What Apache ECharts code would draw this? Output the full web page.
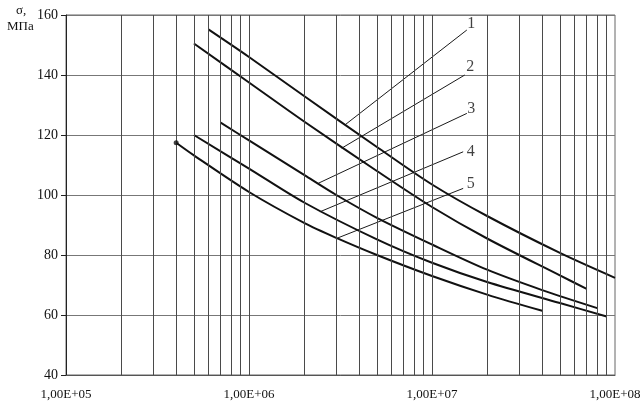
<!DOCTYPE html>
<html>
<head>
<meta charset="utf-8">
<script src="https://cdn.jsdelivr.net/npm/echarts@6/dist/echarts.min.js"></script>
<style>
  html, body { margin: 0; padding: 0; background: #fff; }
  #chart { width: 641px; height: 408px; }
</style>
</head>
<body>
<div id="chart"></div>
<script>
// Fatigue curves: stress amplitude (MPa) against number of cycles (log scale)
const cycles1 = [6e5, 1e6, 2e6, 5e6, 1e7, 2e7, 5e7, 1e8];
const stress1 = [155.2, 146, 133, 116, 103.5, 93, 80.7, 72.4];

const cycles2 = [5e5, 1e6, 2e6, 5e6, 1e7, 2e7, 5e7, 7e7];
const stress2 = [150.5, 137.5, 124.5, 108, 96, 85.5, 73.2, 68.7];

const cycles3 = [7e5, 1e6, 2e6, 3e6, 5e6, 1e7, 2e7, 4e7, 8e7];
const stress3 = [124.1, 118.2, 106.7, 100, 92.4, 83.5, 75.1, 68.3, 62.3];

const cycles4 = [5e5, 1e6, 2e6, 5e6, 1e7, 2e7, 5e7, 9e7];
const stress4 = [120, 108.8, 97.5, 85.2, 77.4, 71, 64, 59.5];

const cycles5 = [4e5, 5e5, 1e6, 2e6, 3e6, 5e6, 1e7, 2e7, 4e7];
const stress5 = [117.4, 113.2, 101, 90.7, 85.7, 80, 73, 66.8, 61.4];

// Callout lines: upper end (near the number) and lower end (on the curve)
const calloutNames = ['1', '2', '3', '4', '5'];
const calloutTopCycles = [1.55e7, 1.51e7, 1.55e7, 1.48e7, 1.48e7];
const calloutTopStress = [155, 140, 127.2, 114.4, 102.2];
const calloutEndCycles = [3.35e6, 3.21e6, 2.39e6, 2.44e6, 3.06e6];
const calloutEndStress = [123.4, 115.6, 103.9, 94.4, 85.7];

// Axis ticks and labels
const xTickLabels = ['1,00E+05', '1,00E+06', '1,00E+07', '1,00E+08'];
const yTicks = [40, 60, 80, 100, 120, 140, 160];
const logGridCycles = [
  2e5, 3e5, 4e5, 5e5, 6e5, 7e5, 8e5, 9e5, 1e6,
  2e6, 3e6, 4e6, 5e6, 6e6, 7e6, 8e6, 9e6, 1e7,
  2e7, 3e7, 4e7, 5e7, 6e7, 7e7, 8e7, 9e7
];

const FONT = '"Liberation Serif", "Times New Roman", serif';
const zip = (xs, ys) => xs.map((x, i) => [x, ys[i]]);

const curveSets = [
  [cycles1, stress1],
  [cycles2, stress2],
  [cycles3, stress3],
  [cycles4, stress4],
  [cycles5, stress5]
];

const curveSeries = curveSets.map(([xs, ys], i) => ({
  name: 'curve' + (i + 1),
  type: 'line',
  data: zip(xs, ys),
  smooth: 0.3,
  showSymbol: false,
  silent: true,
  z: 4,
  lineStyle: { color: '#111', width: 2 }
}));

const calloutSeries = calloutNames.map((n, i) => ({
  name: 'callout' + n,
  type: 'line',
  data: [[calloutTopCycles[i], calloutTopStress[i]], [calloutEndCycles[i], calloutEndStress[i]]],
  showSymbol: false,
  silent: true,
  z: 3,
  lineStyle: { color: '#1a1a1a', width: 1 }
}));

const labelOffsets = [[0, -6], [1, -8], [0, -5], [3, 0], [3, -5]];

const numberSeries = {
  type: 'scatter',
  silent: true,
  z: 5,
  symbolSize: 1,
  itemStyle: { color: 'transparent' },
  data: calloutNames.map((n, i) => ({
    value: [calloutTopCycles[i], calloutTopStress[i]],
    label: {
      show: true,
      formatter: n,
      position: 'right',
      distance: 0,
      offset: labelOffsets[i],
      fontFamily: FONT,
      fontSize: 16,
      color: '#111'
    }
  }))
};

const startMark = {
  type: 'scatter',
  silent: true,
  z: 5,
  symbol: 'circle',
  symbolSize: 5,
  itemStyle: { color: '#111' },
  data: [[cycles5[0], stress5[0]]]
};

const gridLines = {
  type: 'line',
  data: [],
  silent: true,
  z: 1,
  markLine: {
    silent: true,
    symbol: ['none', 'none'],
    label: { show: false },
    animation: false,
    lineStyle: { color: '#4a4a4a', width: 1, type: 'solid' },
    data: logGridCycles.map(v => ({ xAxis: v }))
  }
};

const chart = echarts.init(document.getElementById('chart'), null, { renderer: 'canvas' });
chart.setOption({
  animation: false,
  backgroundColor: '#fff',
  grid: {
    left: 66, right: 26, top: 15, bottom: 33,
    show: true, borderColor: '#666', borderWidth: 1,
    outerBoundsMode: 'none'
  },
  xAxis: {
    type: 'log',
    logBase: 10,
    min: 1e5,
    max: 1e8,
    splitNumber: 3,
    axisLine: { show: true, lineStyle: { color: '#555', width: 1 } },
    axisTick: { show: false },
    splitLine: { show: false },
    axisLabel: {
      margin: 13,
      fontFamily: FONT,
      fontSize: 13,
      color: '#111',
      formatter: v => xTickLabels[Math.round(Math.log10(v)) - 5] || ''
    }
  },
  yAxis: {
    type: 'value',
    min: yTicks[0],
    max: yTicks[yTicks.length - 1],
    interval: 20,
    axisLine: { show: true, lineStyle: { color: '#222', width: 1 } },
    axisTick: { show: true, length: 5, lineStyle: { color: '#222' } },
    splitLine: { show: true, lineStyle: { color: '#777', width: 1 } },
    axisLabel: { margin: 8, fontFamily: FONT, fontSize: 14, color: '#111' }
  },
  graphic: [
    { type: 'text', left: 16, top: 4, style: { text: 'σ,', font: '13px ' + FONT, fill: '#111' } },
    { type: 'text', left: 7, top: 20, style: { text: 'МПа', font: '13px ' + FONT, fill: '#111' } }
  ],
  series: [gridLines].concat(calloutSeries, curveSeries, [numberSeries, startMark])
});
</script>
</body>
</html>
